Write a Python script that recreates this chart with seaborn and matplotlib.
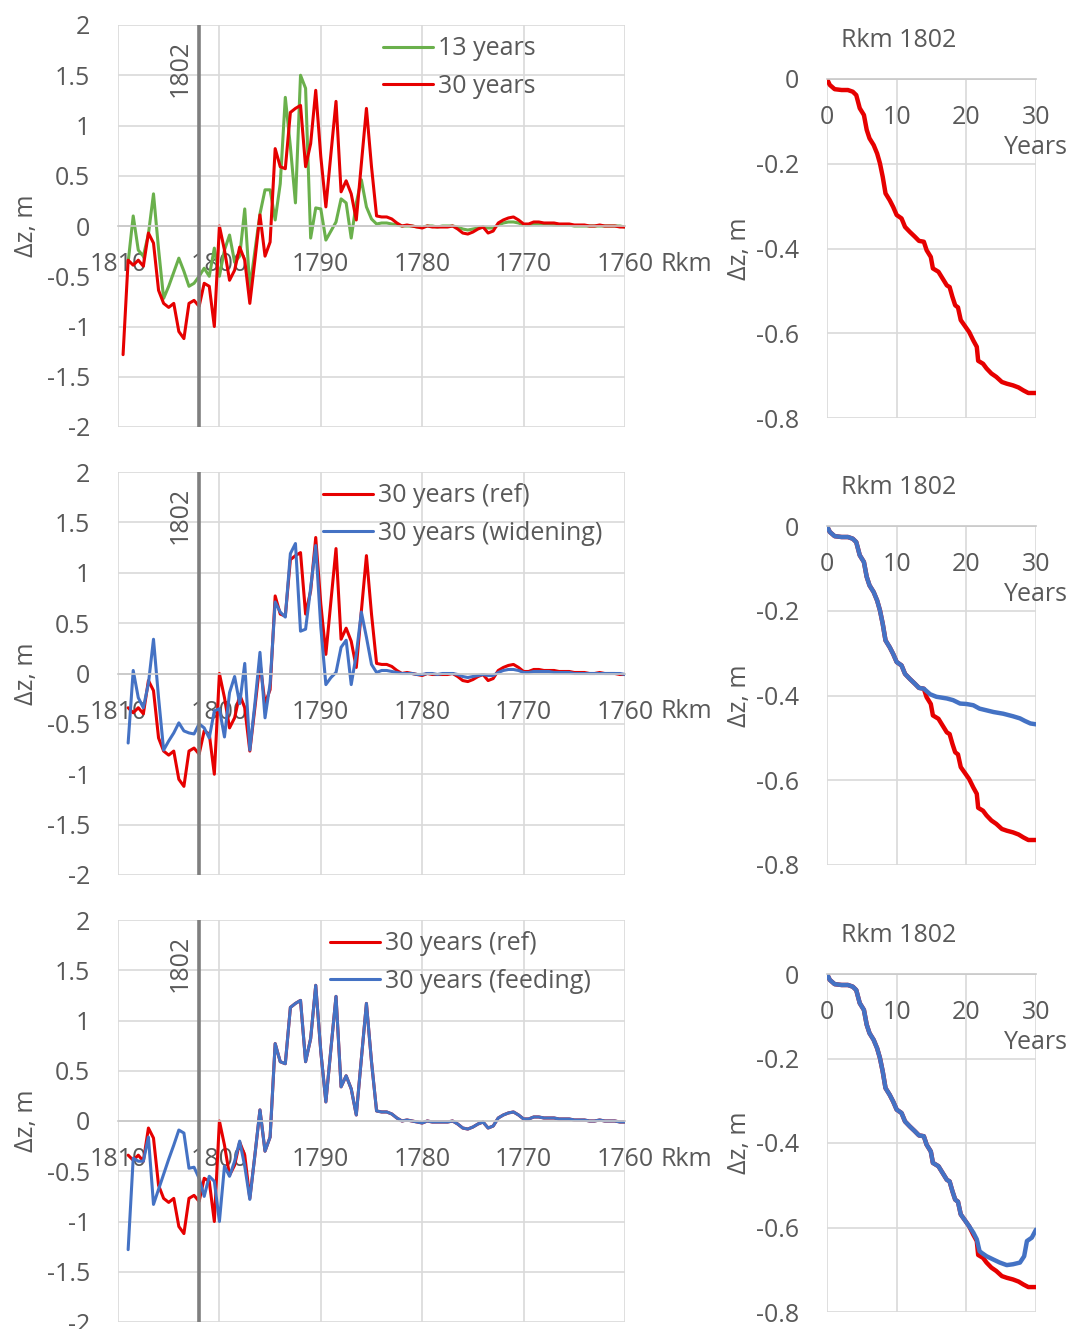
import numpy as np
import pandas as pd
import matplotlib
matplotlib.use("Agg")
import matplotlib.pyplot as plt
import matplotlib.transforms as mtransforms
import seaborn as sns

sns.set_theme(style="white")
plt.rcParams['font.family'] = ['Open Sans', 'DejaVu Sans']

TXT = '#595959'
GRID = '#D9D9D9'
RED = '#E60000'
GREEN = '#6AB04C'
BLUE = '#4472C4'
FS = 18

# river km, 0.5 km spacing
rkm = np.arange(1809.5, 1759.75, -0.5)

dz_30y = [-1.28, -0.34, -0.39, -0.34, -0.40, -0.07, -0.17, -0.64, -0.77, -0.81,
          -0.77, -1.05, -1.12, -0.77, -0.74, -0.80, -0.57, -0.60, -1.00, 0.00,
          -0.24, -0.54, -0.44, -0.21, -0.34, -0.77, -0.34, 0.11, -0.30, -0.16,
          0.77, 0.59, 0.57, 1.13, 1.17, 1.20, 0.59, 0.82, 1.35, 0.69,
          0.19, 0.72, 1.24, 0.34, 0.45, 0.32, 0.06, 0.62, 1.17, 0.59,
          0.10, 0.09, 0.09, 0.07, 0.03, 0.00, 0.01, 0.00, -0.01, -0.02,
          0.00, -0.01, -0.01, -0.01, -0.01, 0.00, -0.03, -0.07, -0.08, -0.06,
          -0.03, -0.01, -0.07, -0.05, 0.03, 0.06, 0.08, 0.09, 0.06, 0.02,
          0.02, 0.04, 0.04, 0.03, 0.03, 0.03, 0.02, 0.02, 0.02, 0.01,
          0.01, 0.01, 0.00, 0.00, 0.01, 0.00, 0.00, 0.00, -0.01, -0.01]

dz_13y = [np.nan, -0.36, 0.10, -0.24, -0.30, -0.08, 0.32, -0.23, -0.72, -0.60,
          -0.46, -0.32, -0.45, -0.60, -0.57, -0.50, -0.42, -0.50, -0.22, -0.50,
          -0.24, -0.09, -0.36, -0.30, 0.17, -0.62, -0.25, 0.12, 0.36, 0.36,
          0.06, 0.42, 1.28, 0.79, 0.23, 1.50, 1.37, -0.12, 0.18, 0.17,
          -0.14, -0.05, 0.04, 0.27, 0.23, -0.12, 0.23, 0.46, 0.19, 0.07,
          0.02, 0.03, 0.03, 0.02, 0.01, 0.00, 0.00, 0.00, -0.01, -0.01,
          0.00, 0.00, -0.01, 0.00, 0.00, 0.00, -0.01, -0.03, -0.04, -0.03,
          -0.02, -0.01, -0.02, -0.02, 0.01, 0.03, 0.04, 0.04, 0.03, 0.01,
          0.01, 0.02, 0.02, 0.02, 0.02, 0.01, 0.01, 0.01, 0.01, 0.00,
          0.00, 0.00, 0.00, 0.00, 0.00, 0.00, 0.00, 0.00, 0.00, -0.01]

dz_widen = [np.nan, -0.69, 0.03, -0.24, -0.34, -0.10, 0.34, -0.24, -0.76, -0.67,
            -0.59, -0.49, -0.57, -0.59, -0.60, -0.50, -0.54, -0.64, -0.37, -0.35,
            -0.63, -0.19, -0.03, -0.30, 0.10, -0.76, -0.30, 0.21, -0.44, -0.10,
            0.71, 0.61, 0.56, 1.19, 1.29, 0.42, 0.44, 0.85, 1.27, 0.46,
            -0.11, -0.04, 0.01, 0.26, 0.33, -0.11, 0.19, 0.61, 0.36, 0.09,
            0.01, 0.03, 0.03, 0.02, 0.01, 0.00, 0.00, 0.00, -0.01, -0.01,
            0.00, 0.00, -0.01, 0.00, 0.00, 0.00, -0.01, -0.03, -0.04, -0.03,
            -0.02, -0.01, -0.02, -0.02, 0.01, 0.03, 0.04, 0.04, 0.03, 0.01,
            0.01, 0.02, 0.02, 0.02, 0.02, 0.01, 0.01, 0.01, 0.01, 0.00,
            0.00, 0.00, 0.00, 0.00, 0.00, 0.00, 0.00, 0.00, 0.00, -0.01]

# feeding run differs from the reference only upstream of Rkm 1796
feed_head = [np.nan, -1.28, -0.37, -0.40, -0.40, -0.16, -0.83, -0.68, -0.53, -0.38,
             -0.24, -0.09, -0.12, -0.47, -0.46, -0.57, -0.75, -0.55, -0.60, -1.00,
             -0.45, -0.55, -0.40, -0.20, -0.45, -0.78, -0.34, 0.11]
dz_feed = feed_head + dz_30y[28:]
dz_ref = [np.nan] + dz_30y[1:]

# time series at Rkm 1802
years_ref = [0, 0.4, 1.1, 2.1, 3.0, 3.7, 4.2, 4.7, 5.3, 5.7,
             6.1, 6.7, 7.2, 7.6, 8.0, 8.4, 9.0, 9.5, 10.0, 10.7,
             11.2, 11.9, 12.6, 13.2, 13.9, 14.3, 14.9, 15.2, 16.0, 16.6,
             17.2, 17.6, 18.0, 18.4, 18.8, 19.2, 19.8, 20.4, 21.0, 21.5,
             21.7, 22.4, 22.9, 23.6, 24.3, 25.1, 25.8, 26.7, 27.5, 28.2,
             28.9, 30.0]
pt_ref = [0, -0.014, -0.024, -0.026, -0.026, -0.030, -0.038, -0.069, -0.085, -0.120,
          -0.140, -0.156, -0.176, -0.199, -0.231, -0.270, -0.286, -0.302, -0.321, -0.329,
          -0.349, -0.361, -0.372, -0.382, -0.384, -0.404, -0.420, -0.447, -0.455, -0.471,
          -0.487, -0.491, -0.514, -0.534, -0.539, -0.569, -0.583, -0.597, -0.617, -0.632,
          -0.665, -0.672, -0.683, -0.695, -0.703, -0.715, -0.719, -0.723, -0.728, -0.735,
          -0.741, -0.741]

wid_years_tail = [14.8, 15.7, 17.2, 18.1, 19.1, 20.0, 21.0, 21.9, 22.9, 23.9,
                  25.3, 26.7, 27.7, 28.4, 29.2, 30.0]
wid_dz_tail = [-0.397, -0.403, -0.407, -0.411, -0.419, -0.420, -0.423, -0.431, -0.435, -0.439,
               -0.443, -0.449, -0.454, -0.460, -0.466, -0.468]
feed_years_tail = [21.0, 21.5, 21.9, 22.2, 22.9, 23.9, 24.8, 25.8, 26.7, 27.7,
                   28.3, 28.7, 29.4, 30.0]
feed_dz_tail = [-0.612, -0.628, -0.656, -0.660, -0.668, -0.676, -0.683, -0.689, -0.687, -0.683,
                -0.668, -0.632, -0.624, -0.605]

years_wid = years_ref[:25] + wid_years_tail
pt_wid = pt_ref[:25] + wid_dz_tail
years_feed = years_ref[:38] + feed_years_tail
pt_feed = pt_ref[:38] + feed_dz_tail

x_ticks = [1810, 1800, 1790, 1780, 1770, 1760]
y_ticks = [-2, -1.5, -1, -0.5, 0, 0.5, 1, 1.5, 2]
y_labels = ['-2', '-1.5', '-1', '-0.5', '0', '0.5', '1', '1.5', '2']
t_ticks = [0, 10, 20, 30]
p_ticks = [-0.8, -0.6, -0.4, -0.2, 0]
p_labels = ['-0.8', '-0.6', '-0.4', '-0.2', '0']


def style_profile(ax, legend_x):
    ax.set_xlim(1810, 1760)
    ax.set_ylim(-2, 2)
    ax.set_xticks(x_ticks)
    ax.set_yticks(y_ticks)
    ax.set_yticklabels(y_labels)
    ax.grid(True, color=GRID, lw=1.2)
    for s in ['top', 'right', 'left']:
        ax.spines[s].set_visible(False)
    ax.spines['bottom'].set_position(('data', 0))
    ax.spines['bottom'].set_color('#C8C8C8')
    ax.spines['bottom'].set_linewidth(1.2)
    ax.tick_params(axis='x', length=0, pad=19, labelsize=FS, labelcolor=TXT)
    ax.tick_params(axis='y', length=0, pad=20, labelsize=FS, labelcolor=TXT)
    ax.set_xlabel('')
    ax.set_ylabel('Δz, m', fontsize=FS, color=TXT)
    ax.yaxis.set_label_coords(-0.155, 0.5)
    ax.axvline(1802, color='#7F7F7F', lw=2.6, zorder=5)
    ax.text(1803.9, 1.57, '1802', rotation=90, ha='center', va='center',
            fontsize=FS, color=TXT)
    tr = mtransforms.blended_transform_factory(ax.transAxes, ax.transData)
    ax.text(1.07, -0.38, 'Rkm', transform=tr, ha='left', va='center',
            fontsize=FS, color=TXT, clip_on=False)
    ax.legend(loc='upper left', bbox_to_anchor=(legend_x, 0.972), frameon=False,
              fontsize=FS, labelcolor=TXT, handlelength=2.0, handletextpad=0.2,
              labelspacing=0.5, borderaxespad=0, borderpad=0)


def style_point(ax):
    ax.set_xlim(0, 30)
    ax.set_ylim(-0.8, 0)
    ax.set_xticks(t_ticks)
    ax.set_yticks(p_ticks)
    ax.set_yticklabels(p_labels)
    ax.grid(True, color=GRID, lw=1.2)
    for s in ['top', 'right', 'left']:
        ax.spines[s].set_visible(False)
    ax.spines['bottom'].set_position(('data', 0))
    ax.spines['bottom'].set_color('#C8C8C8')
    ax.spines['bottom'].set_linewidth(1.2)
    ax.tick_params(axis='x', length=0, pad=19, labelsize=FS, labelcolor=TXT)
    ax.tick_params(axis='y', length=0, pad=20, labelsize=FS, labelcolor=TXT)
    ax.set_xlabel('')
    ax.set_ylabel('Δz, m', fontsize=FS, color=TXT)
    ax.yaxis.set_label_coords(-0.36, 0.5)
    ax.text(30, -0.162, 'Years', ha='center', va='center', fontsize=FS, color=TXT)
    ax.text(0.344, 1.115, 'Rkm 1802', transform=ax.transAxes, ha='center',
            va='center', fontsize=18, color=TXT)
    if ax.get_legend() is not None:
        ax.get_legend().remove()


fig = plt.figure(figsize=(10.69, 13.29), dpi=100)
W, H = 1069, 1329


def add_ax(x0, y0, x1, y1):
    return fig.add_axes([x0 / W, 1 - y1 / H, (x1 - x0) / W, (y1 - y0) / H])


prof = [add_ax(118, 25, 625, 427), add_ax(118, 472, 625, 875), add_ax(118, 920, 625, 1322)]
pnt = [add_ax(827, 79, 1036, 418), add_ax(827, 526, 1036, 865), add_ax(827, 974, 1036, 1312)]

lw_p = 2.2
# row 1
sns.lineplot(x=rkm, y=dz_13y, color=GREEN, lw=lw_p, label='13 years', ax=prof[0], estimator=None)
sns.lineplot(x=rkm, y=dz_30y, color=RED, lw=lw_p, label='30 years', ax=prof[0], estimator=None)
style_profile(prof[0], 0.523)
# row 2
sns.lineplot(x=rkm, y=dz_ref, color=RED, lw=lw_p, label='30 years (ref)', ax=prof[1], estimator=None)
sns.lineplot(x=rkm, y=dz_widen, color=BLUE, lw=lw_p, label='30 years (widening)', ax=prof[1], estimator=None)
style_profile(prof[1], 0.404)
# row 3
sns.lineplot(x=rkm, y=dz_ref, color=RED, lw=lw_p, label='30 years (ref)', ax=prof[2], estimator=None)
sns.lineplot(x=rkm, y=dz_feed, color=BLUE, lw=lw_p, label='30 years (feeding)', ax=prof[2], estimator=None)
style_profile(prof[2], 0.418)

lw_t = 3.2
sns.lineplot(x=years_ref, y=pt_ref, color=RED, lw=lw_t, ax=pnt[0], estimator=None)
style_point(pnt[0])
sns.lineplot(x=years_ref, y=pt_ref, color=RED, lw=lw_t, ax=pnt[1], estimator=None)
sns.lineplot(x=years_wid, y=pt_wid, color=BLUE, lw=lw_t, ax=pnt[1], estimator=None)
style_point(pnt[1])
sns.lineplot(x=years_ref, y=pt_ref, color=RED, lw=lw_t, ax=pnt[2], estimator=None)
sns.lineplot(x=years_feed, y=pt_feed, color=BLUE, lw=lw_t, ax=pnt[2], estimator=None)
style_point(pnt[2])

fig.savefig('out.png', dpi=100)
